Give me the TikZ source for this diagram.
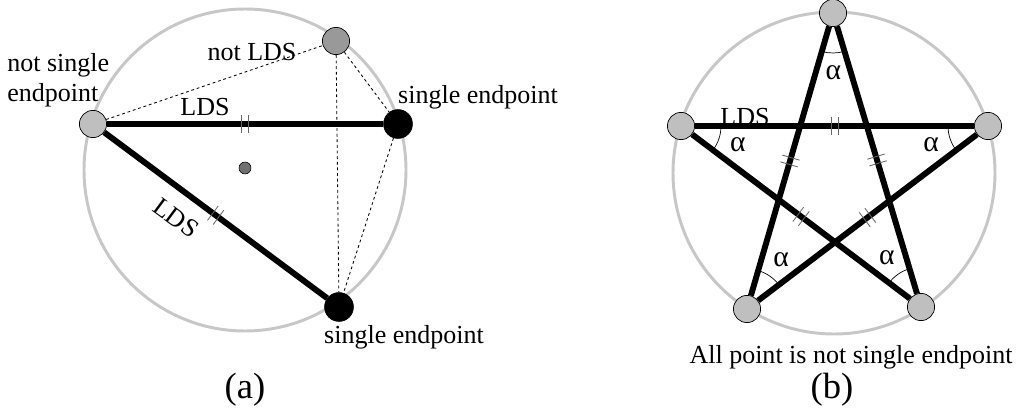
\documentclass[tikz,border=0pt]{standalone}
\usepackage{fontspec}
\setmainfont{Liberation Serif}
\usetikzlibrary{angles,quotes}
\tikzset{
  hull/.style={draw=black!22, line width=2.1pt},
  lgpt/.style={circle, draw=black, line width=0.5pt, fill=black!25, minimum size=0.68cm, inner sep=0pt},
  mgpt/.style={lgpt, fill=black!40},
  bkpt/.style={lgpt, fill=black, minimum size=0.72cm},
  ctrpt/.style={circle, draw=black, line width=0.4pt, fill=black!56, minimum size=0.3cm, inner sep=0pt},
  lds/.style={draw=black, line width=4.2pt},
  cand/.style={draw=black, line width=0.6pt, dash pattern=on 2pt off 2pt},
  tickline/.style={draw=black!60, line width=0.6pt},
  lbl/.style={font=\fontsize{18.5}{21}\selectfont, inner sep=0pt},
  subcap/.style={font=\fontsize{26}{30}\selectfont, inner sep=0pt},
  ang/.style={draw=black, line width=0.5pt, angle radius=1cm, angle eccentricity=1.5, font=\fontsize{21}{23}\selectfont},
  ticks/.pic={\draw[tickline] (-3.5,-9) -- (-3.5,9) (3.5,-9) -- (3.5,9);}
}

\begin{document}
\begin{tikzpicture}[x=0.025cm, y=0.025cm]
		%%%%% START %%%%%
		\useasboundingbox (0,0) rectangle (1019,415);
		
		%% (a)
		\coordinate (ca) at (245,245);
		\draw[hull] (ca) circle (161);
		\node[ctrpt] (ctr) at (245,247) {};
		
		\node[lgpt] (nse) at (93,291) {};
		\node[mgpt] (nlds) at (336,374) {};
		\node[bkpt] (se1) at (398,291) {};
		\node[bkpt] (se2) at (339,108) {};
		
		\draw[cand] (nse) -- (nlds);
		\draw[cand] (nlds) -- (se1);
		\draw[cand] (nlds) -- (se2);
		\draw[cand] (se1) -- (se2);
		
		\draw[lds] (nse) -- pic[pos=0.5, sloped]{ticks} (se1);
		\draw[lds] (nse) -- pic[pos=0.5, sloped]{ticks} (se2);
		
		\node[lbl, anchor=west, align=left] (nsetxt) at (7,335) {not single\\endpoint};
		\node[lbl] (nldstxt) at (252,363) {not LDS};
		\node[lbl] (lds1) at (205,308) {LDS};
		\node[lbl, rotate=-36.6] (lds2) at (176,197) {LDS};
		\node[lbl] (se1txt) at (478,318) {single endpoint};
		\node[lbl] (se2txt) at (404,78) {single endpoint};
		\node[subcap] (capa) at (245,25) {(a)};
		
		%% (b)
		\coordinate (cb) at (834,242);
		\draw[hull] (cb) circle (161);
		
		\node[lgpt] (p0) at (833,402) {};
		\node[lgpt] (p1) at (681,289) {};
		\node[lgpt] (p2) at (747,106) {};
		\node[lgpt] (p3) at (921,108) {};
		\node[lgpt] (p4) at (988,289) {};
		
		\draw[lds] (p1) -- pic[pos=0.5, sloped]{ticks} (p4);
		\draw[lds] (p0) -- pic[pos=0.5, sloped]{ticks} (p2);
		\draw[lds] (p0) -- pic[pos=0.5, sloped]{ticks} (p3);
		\draw[lds] (p1) -- pic[pos=0.5, sloped]{ticks} (p3);
		\draw[lds] (p4) -- pic[pos=0.5, sloped]{ticks} (p2);
		
		\pic[ang, "α"] {angle = p2--p0--p3};
		\pic[ang, "α"] {angle = p3--p1--p4};
		\pic[ang, "α"] {angle = p1--p4--p2};
		\pic[ang, "α"] {angle = p4--p2--p0};
		\pic[ang, "α"] {angle = p0--p3--p1};
		
		\node[lbl] (lds3) at (745,298) {LDS};
		\node[lbl] (alltxt) at (851,58) {All point is not single endpoint};
		\node[subcap] (capb) at (832,25) {(b)};
		
		%%%%% END %%%%%
	\end{tikzpicture}
\end{document}
